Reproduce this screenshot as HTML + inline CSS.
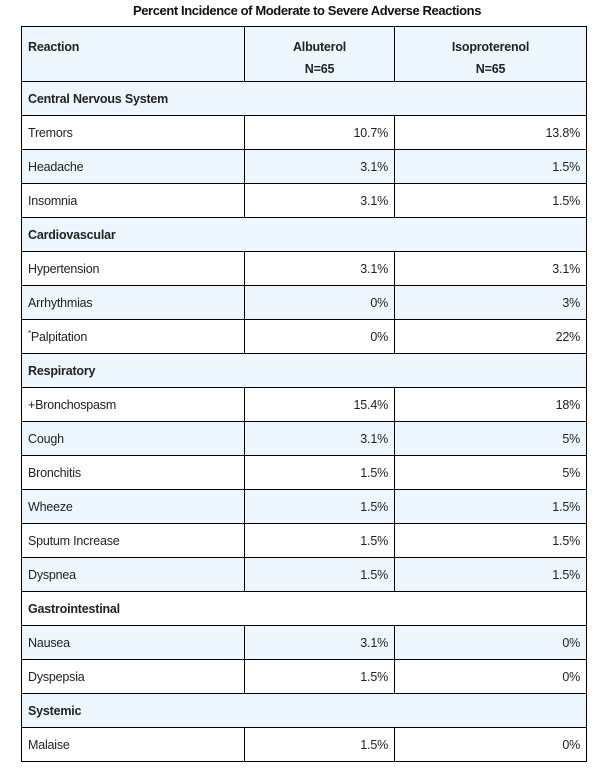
<!DOCTYPE html>
<html><head><meta charset="utf-8"><style>
body{margin:0;background:#fff;width:614px;height:778px;font-family:"Liberation Sans",sans-serif;color:#222;}
.t{position:absolute;top:3px;left:0;width:614px;text-align:center;font-weight:bold;font-size:13px;letter-spacing:-0.4px;color:#111;}
table{position:absolute;left:21px;top:26px;border-collapse:collapse;table-layout:fixed;width:565px;font-size:12.5px;letter-spacing:-0.2px;}
td{border:1px solid #000;height:34px;padding:0 6px;box-sizing:border-box;}
tr.b td{background:#eef7fd;}
td.r{text-align:right;}
tr.h td{height:55px;vertical-align:top;padding-top:9px;font-weight:bold;line-height:22px;}
tr.h td.c{text-align:center;}
td.cat{font-weight:bold;}
</style></head><body>
<div class="t">Percent Incidence of Moderate to Severe Adverse Reactions</div>
<table>
<colgroup><col style="width:223px"><col style="width:150px"><col style="width:192px"></colgroup>
<tr class="h b"><td>Reaction</td><td class="c">Albuterol<br>N=65</td><td class="c">Isoproterenol<br>N=65</td></tr>
<tr class="b"><td class="cat" colspan="3">Central Nervous System</td></tr>
<tr><td>Tremors</td><td class="r">10.7%</td><td class="r">13.8%</td></tr>
<tr class="b"><td>Headache</td><td class="r">3.1%</td><td class="r">1.5%</td></tr>
<tr><td>Insomnia</td><td class="r">3.1%</td><td class="r">1.5%</td></tr>
<tr class="b"><td class="cat" colspan="3">Cardiovascular</td></tr>
<tr><td>Hypertension</td><td class="r">3.1%</td><td class="r">3.1%</td></tr>
<tr class="b"><td>Arrhythmias</td><td class="r">0%</td><td class="r">3%</td></tr>
<tr><td><sup style="font-size:8px">*</sup>Palpitation</td><td class="r">0%</td><td class="r">22%</td></tr>
<tr class="b"><td class="cat" colspan="3">Respiratory</td></tr>
<tr><td>+Bronchospasm</td><td class="r">15.4%</td><td class="r">18%</td></tr>
<tr class="b"><td>Cough</td><td class="r">3.1%</td><td class="r">5%</td></tr>
<tr><td>Bronchitis</td><td class="r">1.5%</td><td class="r">5%</td></tr>
<tr class="b"><td>Wheeze</td><td class="r">1.5%</td><td class="r">1.5%</td></tr>
<tr><td>Sputum Increase</td><td class="r">1.5%</td><td class="r">1.5%</td></tr>
<tr class="b"><td>Dyspnea</td><td class="r">1.5%</td><td class="r">1.5%</td></tr>
<tr><td class="cat" colspan="3">Gastrointestinal</td></tr>
<tr class="b"><td>Nausea</td><td class="r">3.1%</td><td class="r">0%</td></tr>
<tr><td>Dyspepsia</td><td class="r">1.5%</td><td class="r">0%</td></tr>
<tr class="b"><td class="cat" colspan="3">Systemic</td></tr>
<tr><td>Malaise</td><td class="r">1.5%</td><td class="r">0%</td></tr>
</table>
</body></html>
